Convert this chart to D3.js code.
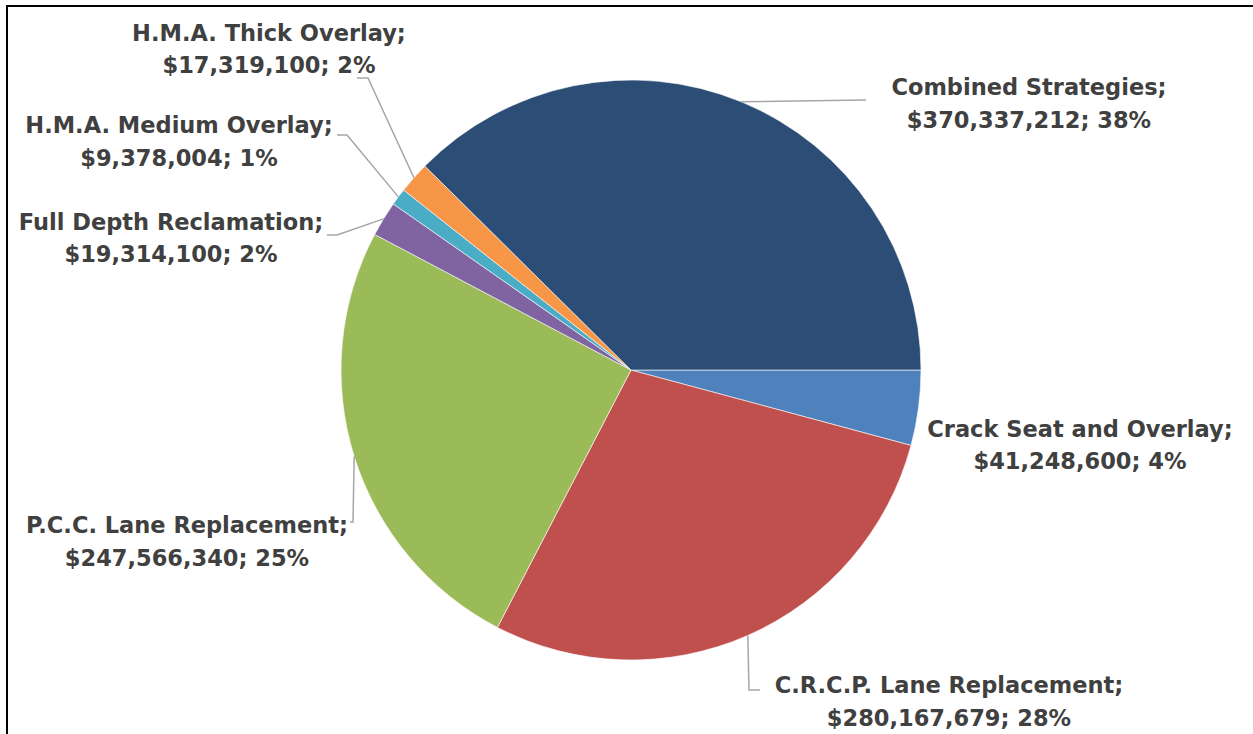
<!DOCTYPE html>
<html>
<head>
<meta charset="utf-8">
<script src="https://cdn.jsdelivr.net/npm/d3@7"></script>
<style>
  html, body { margin: 0; padding: 0; background: #fff; }
  svg { display: block; }
  text { font-family: "DejaVu Sans", sans-serif; font-weight: bold; fill: #404040; }
</style>
</head>
<body>
<svg id="chart" width="1253" height="734"></svg>
<script>
// ---- data (clockwise from 3 o'clock) ----
const categories = [
  "Crack Seat and Overlay",
  "C.R.C.P. Lane Replacement",
  "P.C.C. Lane Replacement",
  "Full Depth Reclamation",
  "H.M.A. Medium Overlay",
  "H.M.A. Thick Overlay",
  "Combined Strategies"
];
const values = [41248600, 280167679, 247566340, 19314100, 9378004, 17319100, 370337212];
const colors = ["#4F81BD", "#C0504D", "#9BBB59", "#8064A2", "#4BACC6", "#F79646", "#2C4D75"];

// ---- layout (label centres, baselines and leader elbows) ----
const labelLayout = [
  { x: 1080, y1: 437, y2: 469, leader: null },
  { x: 949, y1: 693, y2: 726, leader: [[749, 690], [760, 690]] },
  { x: 187, y1: 533, y2: 566, leader: [[353, 522], [350, 522]] },
  { x: 171, y1: 230, y2: 262, leader: [[337, 235], [327, 235]] },
  { x: 179, y1: 133, y2: 166, leader: [[347, 135], [337, 135]] },
  { x: 269, y1: 41, y2: 73, leader: [[368, 78], [357, 78]] },
  { x: 1029, y1: 95, y2: 128, leader: [[866, 100]] }
];

const svg = d3.select("#chart");
const W = 1253, H = 734;
const cx = 631, cy = 370, R = 290;

// frame lines (top and left)
svg.append("line").attr("x1", 6).attr("y1", 6).attr("x2", W).attr("y2", 6)
  .attr("stroke", "#000").attr("stroke-width", 2);
svg.append("line").attr("x1", 7).attr("y1", 5).attr("x2", 7).attr("y2", H)
  .attr("stroke", "#000").attr("stroke-width", 2);

const total = d3.sum(values);
const data = categories.map((c, i) => ({ name: c, value: values[i], color: colors[i], layout: labelLayout[i] }));

const pie = d3.pie().value(d => d.value).sort(null)
  .startAngle(Math.PI / 2).endAngle(Math.PI / 2 + 2 * Math.PI);
const arcs = pie(data);
const arc = d3.arc().innerRadius(0).outerRadius(R);
const edgeArc = d3.arc().innerRadius(R).outerRadius(R);

const g = svg.append("g").attr("transform", `translate(${cx},${cy})`);
g.selectAll("path.slice").data(arcs).enter().append("path")
  .attr("class", "slice")
  .attr("d", arc)
  .attr("fill", d => d.data.color)
  .attr("stroke", "#fff").attr("stroke-width", 0.6);

// leader lines
const line = d3.line();
arcs.forEach(a => {
  const L = a.data.layout;
  if (!L.leader) return;
  const c = edgeArc.centroid(a);
  const pts = [[cx + c[0], cy + c[1]]].concat(L.leader);
  svg.append("path").attr("d", line(pts))
    .attr("fill", "none").attr("stroke", "#A6A6A6").attr("stroke-width", 1.5);
});

// labels
const fmt = d3.format("$,");
arcs.forEach(a => {
  const L = a.data.layout;
  const pct = Math.round(a.data.value / total * 100);
  const t = svg.append("text").attr("text-anchor", "middle").style("font-size", "22.5px");
  t.append("tspan").attr("x", L.x).attr("y", L.y1).text(a.data.name + ";");
  t.append("tspan").attr("x", L.x).attr("y", L.y2).text(fmt(a.data.value) + "; " + pct + "%");
});
</script>
</body>
</html>
